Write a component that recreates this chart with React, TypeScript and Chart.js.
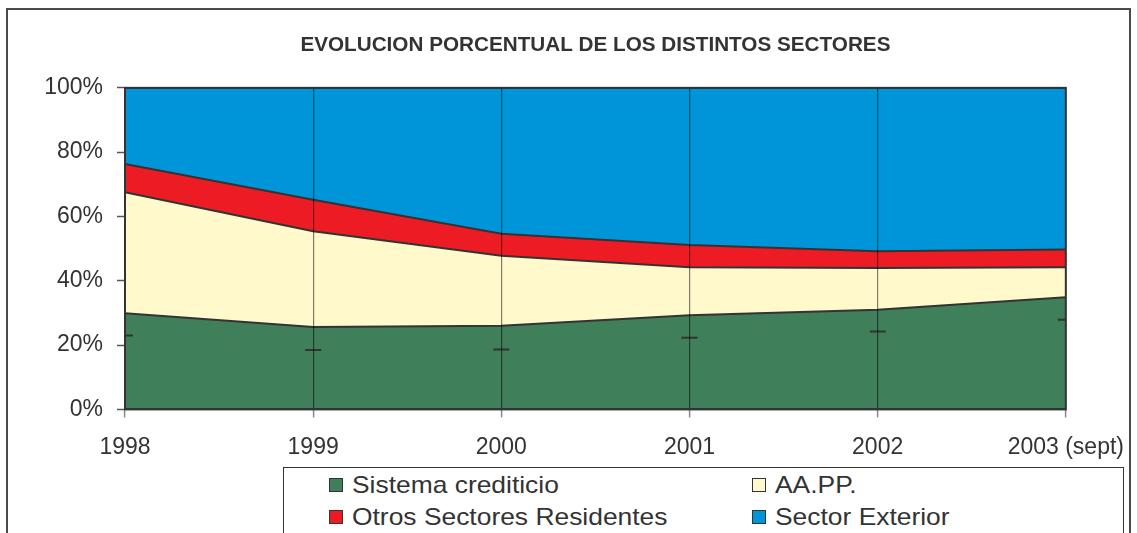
import React, { useEffect, useRef } from 'react';
import { Chart, registerables } from 'chart.js';

Chart.register(...registerables);

// ---- data (percent shares) ----
const years = ['1998', '1999', '2000', '2001', '2002', '2003 (sept)'];
const sistemaCrediticio = [29.9, 25.6, 26.0, 29.3, 31.0, 34.9];
const aapp = [37.6, 29.8, 21.8, 14.9, 13.0, 9.3];
const otrosSectores = [8.8, 9.8, 6.8, 6.9, 5.2, 5.5];
const sectorExterior = [23.7, 34.8, 45.4, 48.9, 50.8, 50.3];
const marcas = [23.0, 18.5, 18.6, 22.3, 24.2, 27.9];
const yTicks = [0, 20, 40, 60, 80, 100];

const seriesLabels = ['Sistema crediticio', 'AA.PP.', 'Otros Sectores Residentes', 'Sector Exterior'];
const seriesColors = ['#3f7f5a', '#fff9cc', '#ed1c24', '#0095d9'];
const titleText = 'EVOLUCION PORCENTUAL DE LOS DISTINTOS SECTORES';

const FONT = "'Liberation Sans', Arial, Helvetica, sans-serif";
const TEXT = '#333333';
const LINE = '#333333';

const plotFrame = {
  id: 'plotFrame',
  afterDraw(chart: any) {
    const { ctx, chartArea: a } = chart;
    ctx.save();
    ctx.strokeStyle = LINE;
    ctx.lineWidth = 2;
    ctx.strokeRect(a.left, a.top, a.right - a.left, a.bottom - a.top);
    ctx.restore();
  },
};

export default function App() {
  const ref = useRef<HTMLCanvasElement | null>(null);

  useEffect(() => {
    if (!ref.current) return;
    const values = [sistemaCrediticio, aapp, otrosSectores, sectorExterior];
    const areaSets = values.map((d, i) => ({
      label: seriesLabels[i],
      data: d,
      backgroundColor: seriesColors[i],
      borderColor: LINE,
      borderWidth: 2,
      fill: i === 0 ? 'origin' : '-1',
      pointRadius: 0,
      tension: 0,
      yAxisID: 'y',
    }));
    const chart = new Chart(ref.current, {
      type: 'line',
      data: {
        labels: years,
        datasets: [
          ...areaSets,
          {
            label: 'marcas',
            data: marcas,
            yAxisID: 'y2',
            showLine: false,
            fill: false,
            pointStyle: 'line',
            pointRadius: 8,
            pointBorderWidth: 2,
            pointBorderColor: LINE,
            borderColor: LINE,
            order: -1,
            clip: 0,
          } as any,
        ],
      },
      options: {
        responsive: false,
        animation: false,
        events: [],
        layout: { padding: { left: 0, right: 70, top: 0, bottom: 56 } },
        plugins: {
          legend: { display: false },
          tooltip: { enabled: false },
          title: {
            display: true,
            text: titleText,
            fullSize: false,
            color: TEXT,
            font: { family: FONT, size: 20.7, weight: 'bold' },
            padding: { top: 33, bottom: 30 },
          },
        },
        scales: {
          x: {
            grid: {
              z: 1,
              color: 'rgba(0,0,0,0.5)',
              lineWidth: 1.2,
              tickLength: 8,
              tickColor: '#888888',
              tickWidth: 1.5,
            },
            border: { display: true, color: LINE, width: 2, z: 2 },
            ticks: {
              padding: 13,
              color: TEXT,
              font: { family: FONT, size: 23, lineHeight: 1.46 },
              maxRotation: 0,
              autoSkip: false,
            },
          },
          y: {
            stacked: true,
            min: 0,
            max: 100,
            afterBuildTicks: (s: any) => {
              s.ticks = yTicks.map((v) => ({ value: v }));
            },
            afterFit: (s: any) => {
              s.width = 125;
            },
            ticks: {
              padding: 14,
              color: TEXT,
              font: { family: FONT, size: 23 },
              callback: (v: any) => v + '%',
            },
            grid: {
              drawOnChartArea: false,
              tickLength: 8,
              tickColor: '#555555',
              tickWidth: 1.5,
            },
            border: { color: LINE, width: 2 },
          },
          y2: { display: false, min: 0, max: 100 },
        },
      } as any,
      plugins: [plotFrame],
    });
    return () => chart.destroy();
  }, []);

  return (
    <div
      style={{
        position: 'absolute',
        left: 0,
        top: 0,
        width: 1137,
        height: 533,
        overflow: 'hidden',
        background: '#ffffff',
      }}
    >
      <div
        style={{
          position: 'absolute',
          left: 6,
          top: 8,
          width: 1125,
          height: 620,
          boxSizing: 'border-box',
          border: '2px solid #4a4a4a',
        }}
      />
      <canvas
        ref={ref}
        width={1137}
        height={533}
        style={{ position: 'absolute', left: 0, top: 0, display: 'block' }}
      />
      <div
        style={{
          position: 'absolute',
          left: 283,
          top: 467,
          width: 841,
          height: 120,
          boxSizing: 'border-box',
          border: '1.5px solid #333',
          background: '#ffffff',
        }}
      >
        {seriesLabels.map((lab, i) => {
          const col = i % 2;
          const row = Math.floor(i / 2);
          return (
            <div
              key={lab}
              style={{
                position: 'absolute',
                left: 45 + col * 423,
                top: 5 + row * 32,
                height: 24,
                display: 'flex',
                alignItems: 'center',
                whiteSpace: 'nowrap',
              }}
            >
              <span
                style={{
                  display: 'inline-block',
                  width: 14,
                  height: 14,
                  boxSizing: 'border-box',
                  border: '1px solid #333',
                  background: seriesColors[i],
                  marginRight: 9,
                }}
              />
              <span
                style={{
                  fontFamily: FONT,
                  fontSize: 24,
                  lineHeight: '24px',
                  color: TEXT,
                  display: 'inline-block',
                  transform: 'scaleX(1.1)',
                  transformOrigin: 'left center',
                }}
              >
                {lab}
              </span>
            </div>
          );
        })}
      </div>
    </div>
  );
}
